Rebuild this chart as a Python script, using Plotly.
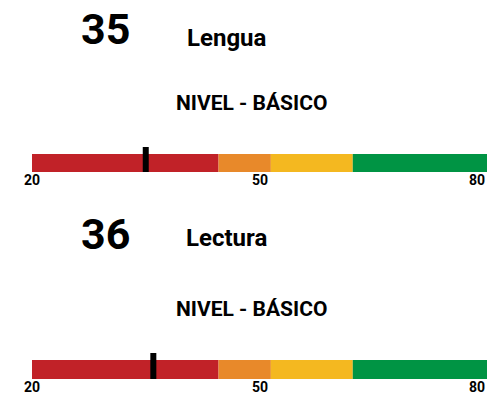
import plotly.graph_objects as go

# ---- data ----
subjects = ["Lengua", "Lectura"]
scores = [35, 36]
levels = ["NIVEL - BÁSICO", "NIVEL - BÁSICO"]
scale_min, scale_max = 20, 80
band_ends = [44.6, 51.5, 62.3, 80]
tick_values = [20, 50, 80]
tick_labels = ["20", "50", "80"]

# ---- style / layout ----
band_colors = ["#C12228", "#E8892A", "#F4B820", "#009444"]
W, H = 490, 403
FONT = "Roboto"
x_px = (32, 487)
# per panel: (marker top px, bar top px, bar bottom px)
panels_px = [(147, 154, 172), (353, 360, 379)]
number_y = [29, 234]
subject_y = [38, 238]
subject_x = [185, 184]
level_y = [103.5, 308.5]
tick_y = [180, 387]

def px_x(px):
    return px / W

def py(px):
    return 1 - px / H

fig = go.Figure()
annotations = []
shapes = []
for i, (subj, score, lvl) in enumerate(zip(subjects, scores, levels)):
    n = "" if i == 0 else str(i + 1)
    xa, ya = "x" + n, "y" + n
    start = scale_min
    for end, col in zip(band_ends, band_colors):
        fig.add_trace(go.Bar(
            x=[end - start], base=[start], y=[0], orientation="h", width=1,
            marker=dict(color=col, line=dict(width=0)),
            xaxis=xa, yaxis=ya, showlegend=False, hoverinfo="skip"))
        start = end
    mtop, btop, bbot = panels_px[i]
    bar_h = bbot - btop
    ext = (btop - mtop) / bar_h
    fig.layout["xaxis" + n] = dict(domain=[px_x(x_px[0]), px_x(x_px[1])], range=[scale_min, scale_max],
                                   visible=False, fixedrange=True, anchor=ya)
    fig.layout["yaxis" + n] = dict(domain=[py(bbot), py(mtop)], range=[-0.5, 0.5 + ext],
                                   visible=False, fixedrange=True, anchor=xa)
    shapes.append(dict(type="line", xref=xa, yref=ya + " domain", x0=score, x1=score, y0=0, y1=1,
                       line=dict(color="black", width=6)))
    annotations.append(dict(text=f"<b>{score}</b>", xref="paper", yref="paper", x=px_x(105), y=py(number_y[i]),
                            xanchor="center", yanchor="middle", showarrow=False,
                            font=dict(family=FONT, size=43, color="black")))
    annotations.append(dict(text=f"<b>{subj}</b>", xref="paper", yref="paper", x=px_x(subject_x[i]), y=py(subject_y[i]),
                            xanchor="left", yanchor="middle", showarrow=False,
                            font=dict(family=FONT, size=24, color="black")))
    annotations.append(dict(text=f"<b>{lvl}</b>", xref="paper", yref="paper", x=px_x(252), y=py(level_y[i]),
                            xanchor="center", yanchor="middle", showarrow=False,
                            font=dict(family=FONT, size=21, color="black")))
    for j, (tv, tl) in enumerate(zip(tick_values, tick_labels)):
        anchor = "right" if j == len(tick_values) - 1 else "center"
        annotations.append(dict(text=f"<b>{tl}</b>", xref=xa, yref="paper", x=tv, y=py(tick_y[i]),
                                xanchor=anchor, yanchor="middle", showarrow=False,
                                font=dict(family=FONT, size=14, color="black")))

fig.update_layout(width=W, height=H, margin=dict(l=0, r=0, t=0, b=0),
                  paper_bgcolor="white", plot_bgcolor="white", barmode="overlay",
                  annotations=annotations, shapes=shapes)
fig.write_html("out.html", config={"displayModeBar": False, "staticPlot": True},
               post_script="document.body.style.margin='0';document.body.style.overflow='hidden';")
